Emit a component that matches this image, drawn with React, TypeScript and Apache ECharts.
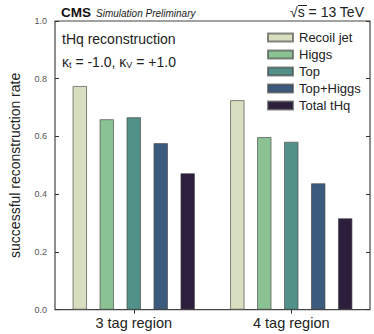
import React, { useEffect, useRef } from "react";
import * as echarts from "echarts";

const categories = ["3 tag region", "4 tag region"];
const seriesNames = ["Recoil jet", "Higgs", "Top", "Top+Higgs", "Total tHq"];
const recoilJet = [0.775, 0.726];
const higgs = [0.66, 0.598];
const top = [0.667, 0.582];
const topHiggs = [0.577, 0.438];
const totalTHq = [0.473, 0.317];
const seriesValues = [recoilJet, higgs, top, topHiggs, totalTHq];
const colors = ["#d8dfc0", "#8ac293", "#519188", "#3c5a7e", "#2d1e3e"];
const yTicks = [0, 0.2, 0.4, 0.6, 0.8, 1.0];

const FONT = "Liberation Sans";

export default function App() {
  const ref = useRef<HTMLDivElement>(null);
  useEffect(() => {
    if (!ref.current) return;
    const chart = echarts.init(ref.current, null, { renderer: "svg" });
    const tickStyle = { color: "#333", width: 1 };
    chart.setOption({
      animation: false,
      backgroundColor: "#ffffff",
      grid: {
        left: 48,
        right: 4,
        top: 21,
        bottom: 24.3,
        show: true,
        borderColor: "#444",
        borderWidth: 1.2,
        backgroundColor: "transparent",
      },
      legend: {
        orient: "vertical",
        left: 267,
        top: 31,
        padding: 0,
        itemWidth: 25,
        itemHeight: 8,
        itemGap: 4,
        icon: "rect",
        data: seriesNames,
        textStyle: { fontFamily: FONT, fontSize: 13, color: "#222", padding: [0, 0, 0, 1] },
      },
      xAxis: [
        {
          type: "category",
          data: categories,
          position: "bottom",
          axisLine: { show: false },
          axisTick: { show: true, inside: true, alignWithLabel: true, length: 4, lineStyle: tickStyle },
          axisLabel: { fontFamily: FONT, fontSize: 14.5, color: "#222", margin: 6 },
          splitLine: { show: false },
        },
        {
          type: "category",
          data: categories,
          position: "top",
          axisLine: { show: false },
          axisTick: { show: true, inside: true, alignWithLabel: true, length: 4, lineStyle: tickStyle },
          axisLabel: { show: false },
          splitLine: { show: false },
        },
      ],
      yAxis: [
        {
          type: "value",
          min: 0,
          max: 1,
          interval: 0.2,
          position: "left",
          name: "successful reconstruction rate",
          nameLocation: "middle",
          nameGap: 33,
          nameTextStyle: { fontFamily: FONT, fontSize: 14, color: "#222" },
          axisLine: { show: false },
          axisTick: { show: true, inside: true, length: 4, lineStyle: tickStyle },
          axisLabel: {
            fontFamily: FONT,
            fontSize: 9,
            color: "#555",
            margin: 8,
            formatter: (v: number) => (yTicks.some((t) => Math.abs(t - v) < 1e-9) ? v.toFixed(1) : ""),
          },
          splitLine: { show: false },
        },
        {
          type: "value",
          min: 0,
          max: 1,
          interval: 0.2,
          position: "right",
          axisLine: { show: false },
          axisTick: { show: true, inside: true, length: 4, lineStyle: tickStyle },
          axisLabel: { show: false },
          splitLine: { show: false },
        },
      ],
      series: seriesNames.map((name, i) => ({
        name,
        type: "bar",
        xAxisIndex: 0,
        yAxisIndex: 0,
        data: seriesValues[i],
        barWidth: 14.5,
        barGap: "86%",
        itemStyle: { color: colors[i], borderColor: "rgba(70,70,70,0.65)", borderWidth: 1 },
      })),
      graphic: [
        {
          type: "text",
          left: 61,
          top: 5,
          style: { text: "CMS", font: `bold 13.5px "${FONT}"`, fill: "#111" },
        },
        {
          type: "text",
          left: 96,
          top: 8,
          style: { text: "Simulation Preliminary", font: `italic 10px "${FONT}"`, fill: "#222" },
        },
        {
          type: "text",
          left: 290,
          top: 5,
          style: { text: "√s = 13 TeV", font: `14px "${FONT}"`, fill: "#222" },
        },
        {
          type: "line",
          shape: { x1: 298, y1: 5.5, x2: 307, y2: 5.5 },
          style: { stroke: "#222", lineWidth: 1 },
        },
        {
          type: "text",
          left: 62,
          top: 32,
          style: { text: "tHq reconstruction", font: `14px "${FONT}"`, fill: "#222" },
        },
        {
          type: "text",
          left: 62,
          top: 55,
          style: {
            text: "{k|κ}{s|t}{n| = -1.0, }{k|κ}{s|V}{n| = +1.0}",
            rich: {
              k: { fontFamily: FONT, fontSize: 14, fill: "#222" },
              n: { fontFamily: FONT, fontSize: 14, fill: "#222" },
              s: { fontFamily: FONT, fontSize: 9, fill: "#222", padding: [6, 0, 0, 0] },
            },
          },
        },
      ],
    });
    return () => chart.dispose();
  }, []);
  return (
    <div
      ref={ref}
      style={{ position: "fixed", left: 0, top: 0, width: 374, height: 334 }}
    />
  );
}
